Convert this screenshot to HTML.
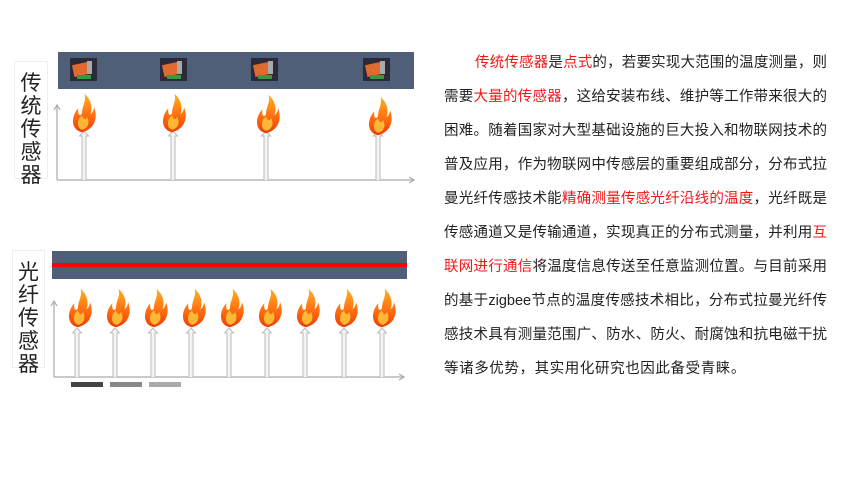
<!DOCTYPE html>
<html><head><meta charset="utf-8"><style>
body{margin:0;width:860px;height:478px;background:#fff;position:relative;overflow:hidden;font-family:"Liberation Sans","Noto Sans CJK SC",sans-serif}
.t{position:absolute;left:444px;top:46px;width:383px;font-size:14.5px;color:#222}
.t div{width:383px;height:34px;line-height:34px;white-space:nowrap;text-align:justify;text-align-last:justify;overflow:visible}
.t div.l{text-align:left;text-align-last:left;letter-spacing:0.6px}
.r{color:#f01818}
.lbl{position:absolute;background:#fff;border:1px solid #eee;font-size:21px;color:#222;line-height:23px;text-align:center}
</style></head><body>
<svg width="430" height="478" style="position:absolute;left:0;top:0">
<defs>
<linearGradient id="fg" x1="0" y1="0" x2="0" y2="1"><stop offset="0" stop-color="#ffb020"/><stop offset="0.6" stop-color="#ff6a10"/><stop offset="1" stop-color="#e84008"/></linearGradient>
<g id="fl0"><path d="M0,16 C-10,14 -9,2 -3,-4 C-4,2 -1,3 0,0 C0,-6 4,-10 2,-16 C8,-11 9,-4 7,1 C9,0 10,-3 10,-5 C13,2 12,13 0,16 Z" fill="url(#fg)"/><path d="M0,14 C-5,12 -4,5 0,2 C1,6 4,6 4,3 C7,8 5,13 0,14Z" fill="#ffd040" opacity="0.8"/></g>
<g id="fl"><use href="#fl0" transform="scale(1.2)"/></g>
<g id="ar"><path d="M-2,0 L-2,-44 L-4.5,-44 L0,-49 L4.5,-44 L2,-44 L2,0" fill="#f4f4f4" stroke="#bbb" stroke-width="1"/></g>
<g id="sn"><rect x="-13" y="-11" width="27" height="23" fill="#2a2a3a"/><rect x="-10" y="-6" width="16" height="12" fill="#e06a30" transform="rotate(-12)"/><rect x="4" y="-8" width="5" height="13" fill="#aaa"/><rect x="-6" y="6" width="14" height="4" fill="#3a9a3a"/></g>
</defs>
<rect x="58" y="52" width="356" height="37" fill="#4f5f78"/>
<use href="#sn" x="83" y="69"/><use href="#sn" x="173" y="69"/><use href="#sn" x="264" y="69"/><use href="#sn" x="376" y="69"/>
<g stroke="#aaa" stroke-width="1.2" fill="none"><path d="M57,180 L57,106 M54,110 L57,105 L60,110 M57,180 L414,180 M409,177 L414,180 L409,183"/></g>
<use href="#ar" x="84" y="180"/><use href="#ar" x="173" y="180"/><use href="#ar" x="266" y="180"/><use href="#ar" x="378" y="180"/>
<use href="#fl" x="82" y="113"/><use href="#fl" x="172" y="113"/><use href="#fl" x="266" y="114"/><use href="#fl" x="378" y="116"/>
<rect x="52" y="251" width="355" height="28" fill="#4f5f78"/>
<rect x="52" y="263" width="355" height="4" fill="#ff0000"/>
<g stroke="#aaa" stroke-width="1.2" fill="none"><path d="M54,377 L54,302 M51,306 L54,301 L57,306 M54,377 L404,377 M399,374 L404,377 L399,380"/></g>
<g>
<use href="#ar" x="77" y="377"/><use href="#ar" x="115" y="377"/><use href="#ar" x="153" y="377"/><use href="#ar" x="191" y="377"/><use href="#ar" x="229" y="377"/><use href="#ar" x="267" y="377"/><use href="#ar" x="305" y="377"/><use href="#ar" x="344" y="377"/><use href="#ar" x="382" y="377"/>
<use href="#fl" x="78" y="308"/><use href="#fl" x="116" y="308"/><use href="#fl" x="154" y="308"/><use href="#fl" x="192" y="308"/><use href="#fl" x="230" y="308"/><use href="#fl" x="268" y="308"/><use href="#fl" x="306" y="308"/><use href="#fl" x="344" y="308"/><use href="#fl" x="382" y="308"/>
</g>
<rect x="71" y="382" width="32" height="5" fill="#444"/><rect x="110" y="382" width="32" height="5" fill="#888"/><rect x="149" y="382" width="32" height="5" fill="#aaa"/>
</svg>
<div class="lbl" style="left:14px;top:61px;width:34px;height:118px;padding-top:10px;box-sizing:border-box">传<br>统<br>传<br>感<br>器</div>
<div class="lbl" style="left:12px;top:250px;width:33px;height:118px;padding-top:10px;box-sizing:border-box">光<br>纤<br>传<br>感<br>器</div>
<div class="t">
<div style="padding-left:31px;width:352px"><span class="r">传统传感器</span>是<span class="r">点式</span>的，若要实现大范围的温度测量，则</div>
<div>需要<span class="r">大量的传感器</span>，这给安装布线、维护等工作带来很大的</div>
<div>困难。随着国家对大型基础设施的巨大投入和物联网技术的</div>
<div>普及应用，作为物联网中传感层的重要组成部分，分布式拉</div>
<div>曼光纤传感技术能<span class="r">精确测量传感光纤沿线的温度</span>，光纤既是</div>
<div>传感通道又是传输通道，实现真正的分布式测量，并利用<span class="r">互</span></div>
<div><span class="r">联网进行通信</span>将温度信息传送至任意监测位置。与目前采用</div>
<div>的基于zigbee节点的温度传感技术相比，分布式拉曼光纤传</div>
<div>感技术具有测量范围广、防水、防火、耐腐蚀和抗电磁干扰</div>
<div class="l">等诸多优势，其实用化研究也因此备受青睐。</div>
</div>
</body></html>
